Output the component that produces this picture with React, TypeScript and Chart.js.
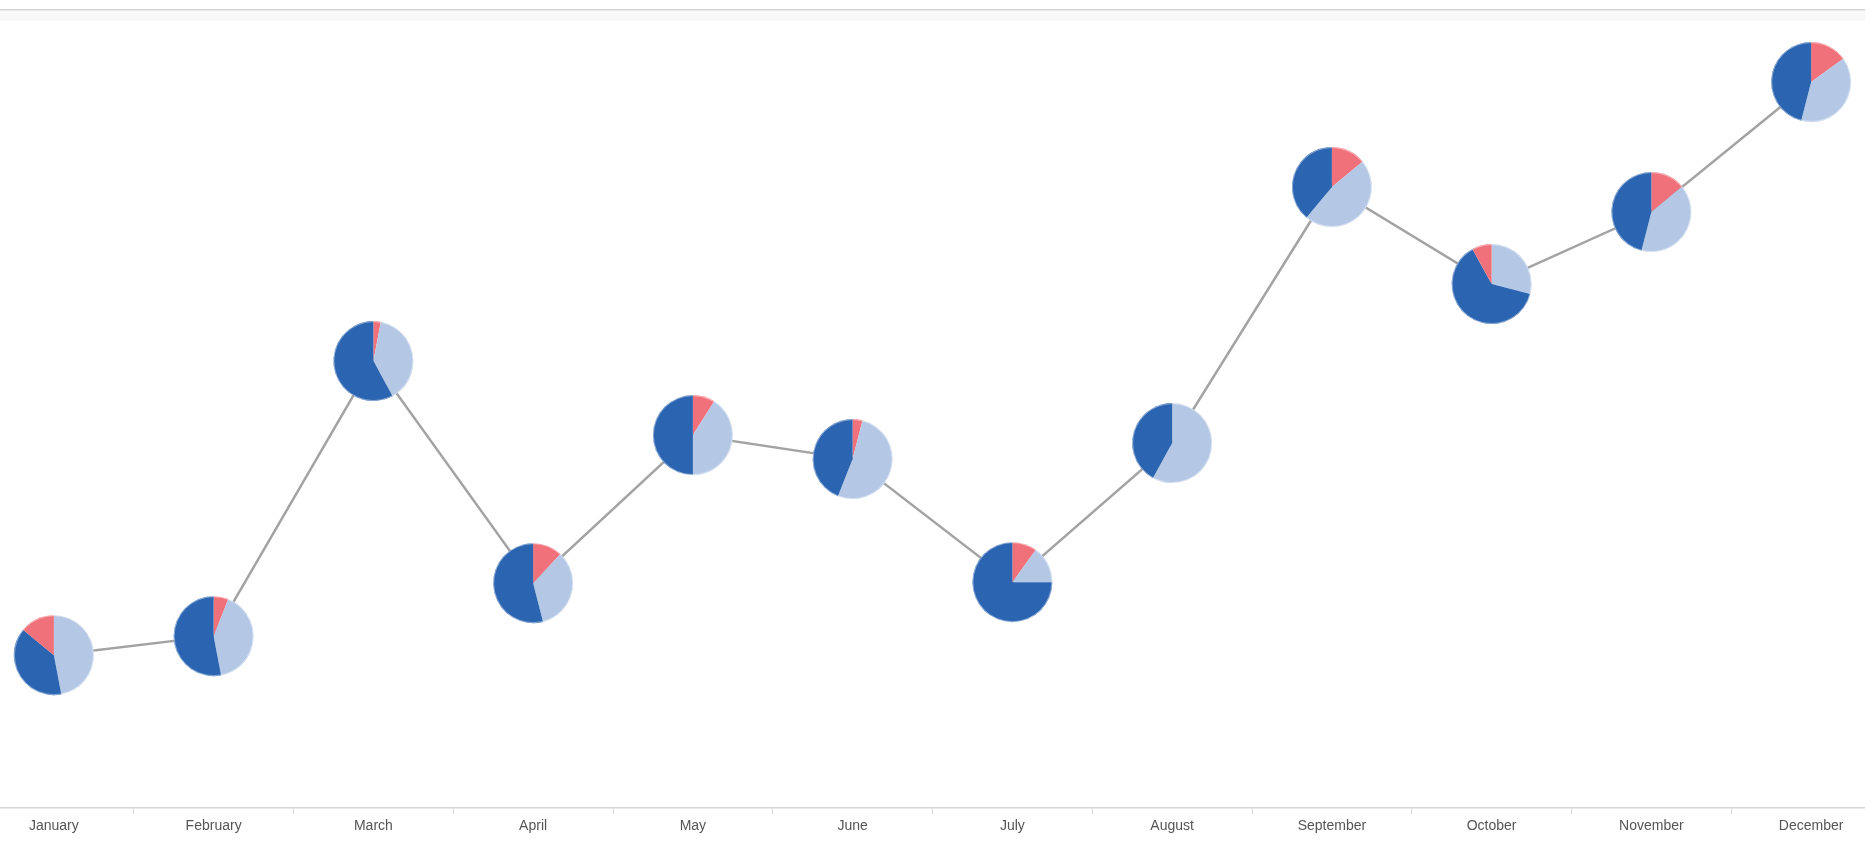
import React, { useEffect, useRef } from "react";
import { Chart, registerables } from "chart.js";

Chart.register(...registerables);

const months = [
  "January", "February", "March", "April", "May", "June",
  "July", "August", "September", "October", "November", "December",
];

// Line value per month (position of each pie)
const totals = [153, 172, 447, 225, 373, 349, 226, 365, 621, 524, 596, 726];

// Pie slice shares per month (percent)
const redShare = [14, 6, 3, 12, 9, 4, 10, 0, 14, 8, 14, 15];
const lightShare = [47, 41, 39, 34, 41, 52, 15, 58, 47, 29, 40, 39];
const darkShare = [39, 53, 58, 54, 50, 44, 75, 42, 39, 63, 46, 46];
// Slice order: true when the red slice comes last (counter-clockwise of 12 o'clock)
const redLast = [true, false, false, false, false, false, false, false, false, true, false, false];

const COLORS = { red: "#f0717a", light: "#b4c8e5", dark: "#2b64b0" };

const piePlugin = {
  id: "pies",
  afterDatasetsDraw(chart: any) {
    const ctx = chart.ctx;
    const meta = chart.getDatasetMeta(0);
    const r = 40;
    meta.data.forEach((pt: any, i: number) => {
      const slices = redLast[i]
        ? [
            [lightShare[i], COLORS.light],
            [darkShare[i], COLORS.dark],
            [redShare[i], COLORS.red],
          ]
        : [
            [redShare[i], COLORS.red],
            [lightShare[i], COLORS.light],
            [darkShare[i], COLORS.dark],
          ];
      const sum = slices.reduce((s, v) => s + (v[0] as number), 0);
      let a = -Math.PI / 2;
      ctx.save();
      slices.forEach(([v, c]) => {
        const da = ((v as number) / sum) * Math.PI * 2;
        if (da <= 0) return;
        ctx.beginPath();
        ctx.moveTo(pt.x, pt.y);
        ctx.arc(pt.x, pt.y, r, a, a + da);
        ctx.closePath();
        ctx.fillStyle = c as string;
        ctx.fill();
        a += da;
      });
      ctx.beginPath();
      ctx.arc(pt.x, pt.y, r - 0.5, 0, Math.PI * 2);
      ctx.strokeStyle = "rgba(255,255,255,0.45)";
      ctx.lineWidth = 1;
      ctx.stroke();
      ctx.restore();
    });
  },
};

const topLinePlugin = {
  id: "topLine",
  beforeDraw(chart: any) {
    const ctx = chart.ctx;
    ctx.save();
    ctx.fillStyle = "#ffffff";
    ctx.fillRect(0, 0, chart.width, chart.height);
    ctx.fillStyle = "#d2d2d2";
    ctx.fillRect(0, 9, chart.width, 1.5);
    ctx.fillStyle = "#f8f8f8";
    ctx.fillRect(0, 11, chart.width, 10);
    ctx.restore();
  },
};

export default function App() {
  const ref = useRef<HTMLCanvasElement>(null);

  useEffect(() => {
    const chart = new Chart(ref.current!, {
      type: "line",
      data: {
        labels: months,
        datasets: [
          {
            data: totals,
            borderColor: "#a3a3a3",
            borderWidth: 2.5,
            pointRadius: 0,
            tension: 0,
            fill: false,
          },
        ],
      },
      options: {
        animation: false,
        responsive: true,
        maintainAspectRatio: false,
        events: [],
        layout: { padding: { top: 10, bottom: 4, left: 0, right: 0 } },
        plugins: { legend: { display: false }, tooltip: { enabled: false } },
        scales: {
          x: {
            offset: true,
            grid: {
              offset: true,
              drawOnChartArea: false,
              drawTicks: true,
              tickLength: 6,
              color: "#d8d8d8",
            },
            border: { display: true, color: "#d4d4d4", width: 1.5 },
            ticks: {
              color: "#555555",
              padding: 4,
              maxRotation: 0,
              autoSkip: false,
              font: { family: "'Liberation Sans', Arial, sans-serif", size: 14 },
            },
          },
          y: {
            display: false,
            min: 0,
            max: 798,
          },
        },
      },
      plugins: [topLinePlugin, piePlugin],
    });
    return () => chart.destroy();
  }, []);

  return (
    <div
      style={{
        position: "fixed",
        left: 0,
        top: 0,
        width: "100vw",
        height: "100vh",
        overflow: "hidden",
        background: "#ffffff",
      }}
    >
      <div style={{ position: "absolute", left: -26, top: 0, width: 1917, height: 843 }}>
        <canvas ref={ref} />
      </div>
    </div>
  );
}
